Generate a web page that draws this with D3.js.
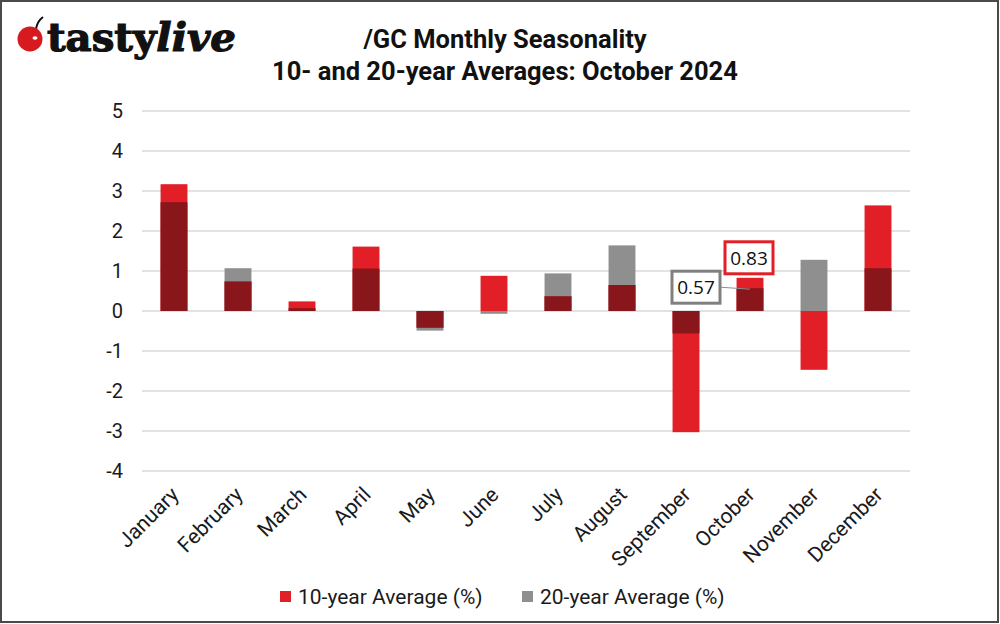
<!DOCTYPE html>
<html>
<head>
<meta charset="utf-8">
<script src="https://cdn.jsdelivr.net/npm/d3@7"></script>
<style>
  body { margin: 0; background: #fff; }
  svg { display: block; font-family: Roboto, "Noto Sans", sans-serif; }
</style>
</head>
<body>
<svg width="1000" height="624"></svg>
<script>
// Data
const months = ["January", "February", "March", "April", "May", "June",
  "July", "August", "September", "October", "November", "December"]
const avg10 = [3.17, 0.74, 0.24, 1.61, -0.42, 0.88, 0.37, 0.65, -3.03, 0.83, -1.47, 2.64]
const avg20 = [2.72, 1.07, 0.07, 1.06, -0.49, -0.07, 0.94, 1.64, -0.56, 0.57, 1.28, 1.07]
const yTicks = [-4, -3, -2, -1, 0, 1, 2, 3, 4, 5]
const seriesNames = ["10-year Average (%)", "20-year Average (%)"]
const calloutMonth = "October"

const colors = { red: "#e21f26", gray: "#8f8f8f", dark: "#88161b" }

const svg = d3.select("svg")

// frame
svg.append("rect")
    .attr("x", 1).attr("y", 1).attr("width", 997).attr("height", 621)
    .attr("fill", "#fff").attr("stroke", "#4a4a4a").attr("stroke-width", 2)

const x = d3.scaleBand()
    .domain(months)
    .range([142, 910])
    .paddingInner(0.58)
    .paddingOuter(0.29)

const y = d3.scaleLinear()
    .domain([-4, 5])
    .range([471, 111])

// gridlines
svg.append("g")
    .selectAll("line")
    .data(yTicks)
    .join("line")
    .attr("x1", 142).attr("x2", 910)
    .attr("y1", d => y(d)).attr("y2", d => y(d))
    .attr("stroke", "#d9d9d9").attr("stroke-width", 1.5)

// y axis labels (plain hyphen minus like the source)
const yAxis = d3.axisLeft(y).tickValues(yTicks).tickSize(0).tickPadding(0)
    .tickFormat(d => String(d))
svg.append("g")
    .attr("transform", "translate(123,0)")
    .call(yAxis)
    .call(g => g.select(".domain").remove())
    .call(g => g.selectAll("text")
        .attr("font-family", "Roboto, sans-serif")
        .attr("font-size", 20)
        .attr("fill", "#1a1a1a"))

// bars: 10y red, 20y gray, overlap dark
const rows = months.map((m, i) => ({ m, a: avg10[i], b: avg20[i] }))

function barRect(sel, v0, v1) {
    sel.attr("x", d => x(d.m))
        .attr("width", x.bandwidth())
        .attr("y", d => y(Math.max(v0(d), v1(d))))
        .attr("height", d => Math.abs(y(v0(d)) - y(v1(d))))
}

const bars = svg.append("g")
bars.selectAll(".bar10")
    .data(rows)
    .join("rect")
    .classed("bar10", true)
    .attr("fill", colors.red)
    .call(barRect, () => 0, d => d.a)

bars.selectAll(".bar20")
    .data(rows.filter(d => Math.abs(d.b) > Math.abs(d.a) || d.a * d.b < 0))
    .join("rect")
    .classed("bar20", true)
    .attr("fill", colors.gray)
    .call(barRect, () => 0, d => d.b)

function overlap(d) {
    if (d.a * d.b <= 0) return 0
    return Math.sign(d.a) * Math.min(Math.abs(d.a), Math.abs(d.b))
}
bars.selectAll(".barBoth")
    .data(rows.filter(d => overlap(d) !== 0))
    .join("rect")
    .classed("barBoth", true)
    .attr("fill", colors.dark)
    .call(barRect, () => 0, overlap)

// month labels
svg.append("g")
    .selectAll("text")
    .data(months)
    .join("text")
    .attr("transform", d => "translate(" + (x(d) + x.bandwidth() / 2 + 6) + ",496) rotate(-45)")
    .attr("text-anchor", "end")
    .attr("font-size", 21)
    .attr("fill", "#1a1a1a")
    .text(d => d)

// callouts for October
const ci = months.indexOf(calloutMonth)
const cx = x(calloutMonth) + x.bandwidth() / 2
const callouts = svg.append("g").attr("font-family", "'Open Sans', sans-serif").attr("font-size", 19)

// 20-year label with leader line
const y20 = y(avg20[ci])
callouts.append("line")
    .attr("x1", cx - 30).attr("x2", cx)
    .attr("y1", y20 - 1).attr("y2", y20 + 1)
    .attr("stroke", "#8f8f8f").attr("stroke-width", 1)
callouts.append("rect")
    .attr("x", cx - 78).attr("y", y20 - 17)
    .attr("width", 48).attr("height", 32)
    .attr("fill", "#fff").attr("stroke", "#808080").attr("stroke-width", 3)
callouts.append("text")
    .attr("x", cx - 54).attr("y", y20 + 6)
    .attr("text-anchor", "middle").attr("fill", "#111")
    .text(avg20[ci].toFixed(2))

// 10-year label
const y10 = y(avg10[ci])
callouts.append("rect")
    .attr("x", cx - 25).attr("y", y10 - 36)
    .attr("width", 48).attr("height", 32)
    .attr("fill", "#fff").attr("stroke", colors.red).attr("stroke-width", 3)
callouts.append("text")
    .attr("x", cx - 1).attr("y", y10 - 13)
    .attr("text-anchor", "middle").attr("fill", "#111")
    .text(avg10[ci].toFixed(2))

// title
const title = svg.append("g")
    .attr("text-anchor", "middle")
    .attr("font-weight", "bold")
    .attr("font-size", 25.5)
    .attr("fill", "#111")
title.append("text").attr("x", 505).attr("y", 48).text("/GC Monthly Seasonality")
title.append("text").attr("x", 505).attr("y", 80).text("10- and 20-year Averages: October 2024")

// legend
const legend = svg.append("g")
    .selectAll("g")
    .data(seriesNames)
    .join("g")
    .attr("transform", (d, i) => "translate(" + (280 + i * 242) + ",591)")
legend.append("rect")
    .attr("width", 11).attr("height", 11)
    .attr("fill", (d, i) => i === 0 ? colors.red : colors.gray)
legend.append("text")
    .attr("x", 18).attr("y", 13)
    .attr("font-size", 21)
    .attr("fill", "#1a1a1a")
    .text(d => d)

// logo
const logo = svg.append("g")
logo.append("path")
    .attr("d", "M36,29 C37,23 39,20 43,17")
    .attr("fill", "none").attr("stroke", "#111").attr("stroke-width", 2)
logo.append("circle")
    .attr("cx", 30).attr("cy", 39).attr("r", 12.5)
    .attr("fill", "#d71920")
logo.append("ellipse")
    .attr("cx", 35).attr("cy", 38).attr("rx", 2.5).attr("ry", 1.8)
    .attr("fill", "#fff")
const logoText = logo.append("text")
    .attr("x", 47).attr("y", 51)
    .attr("font-family", "'DejaVu Serif', serif")
    .attr("font-weight", "bold")
    .attr("font-size", 39)
    .attr("fill", "#111")
    .attr("stroke", "#111")
    .attr("stroke-width", 1.2)
    .attr("textLength", 189)
    .attr("lengthAdjust", "spacingAndGlyphs")
logoText.append("tspan").text("tasty")
logoText.append("tspan").attr("font-style", "italic").text("live")
</script>
</body>
</html>
